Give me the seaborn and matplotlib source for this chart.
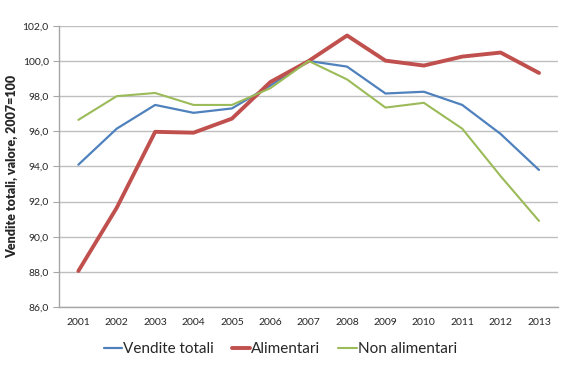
import pandas as pd
import matplotlib
matplotlib.use("Agg")
import matplotlib.pyplot as plt
from matplotlib.ticker import FixedLocator, FuncFormatter
import seaborn as sns

years = list(range(2001, 2014))
vendite_totali = [94.1, 96.15, 97.5, 97.05, 97.3, 98.6, 100.0, 99.68, 98.15, 98.25, 97.5, 95.85, 93.8]
alimentari = [88.05, 91.65, 95.97, 95.92, 96.72, 98.8, 100.0, 101.45, 100.02, 99.74, 100.25, 100.48, 99.32]
non_alimentari = [96.65, 98.0, 98.18, 97.5, 97.5, 98.45, 100.0, 98.95, 97.35, 97.62, 96.15, 93.45, 90.9]

series = ["Vendite totali", "Alimentari", "Non alimentari"]
colors = {"Vendite totali": "#4F81BD", "Alimentari": "#C0504D", "Non alimentari": "#9BBB59"}
widths = {"Vendite totali": 1.6, "Alimentari": 2.8, "Non alimentari": 1.5}

df = pd.DataFrame({
    "anno": years * 3,
    "valore": vendite_totali + alimentari + non_alimentari,
    "serie": [s for s in series for _ in years],
})

sns.set_style("white")
plt.rcParams["font.family"] = ["Lato", "DejaVu Sans"]

fig = plt.figure(figsize=(5.69, 3.8), dpi=100)
ax = fig.add_axes([0.104, 0.192, 0.877, 0.740])

for s in series:
    sns.lineplot(data=df[df["serie"] == s], x="anno", y="valore", color=colors[s],
                 linewidth=widths[s], ax=ax, label=s)

ax.set_xlim(2000.5, 2013.5)
ax.set_ylim(86, 102)
ax.set_yticks(range(86, 103, 2))
ax.yaxis.set_major_formatter(FuncFormatter(lambda v, p: f"{v:.1f}".replace(".", ",")))
ax.set_xticks(years)
ax.xaxis.set_minor_locator(FixedLocator([y + 0.5 for y in range(2000, 2014)]))
ax.grid(axis="y", color="#BFBFBF", linewidth=1.0)
ax.set_axisbelow(True)

for side in ["top", "right"]:
    ax.spines[side].set_visible(False)
for side in ["left", "bottom"]:
    ax.spines[side].set_color("#A6A6A6")
    ax.spines[side].set_linewidth(1.0)

ax.tick_params(axis="x", which="major", length=0, labelsize=7.5, pad=8)
ax.tick_params(axis="x", which="minor", length=4, color="#A6A6A6", direction="out")
ax.tick_params(axis="y", length=4, color="#A6A6A6", direction="out", labelsize=7.5, left=True)

ax.set_xlabel("")
ax.set_ylabel("Vendite totali, valore, 2007=100", fontsize=9, fontweight="heavy", labelpad=3)

ax.legend(loc="center", bbox_to_anchor=(0.443, -0.15), ncol=3, frameon=False,
          fontsize=11, handlelength=1.2, handletextpad=0.05, columnspacing=1.2)

fig.savefig("out.png", dpi=100)
